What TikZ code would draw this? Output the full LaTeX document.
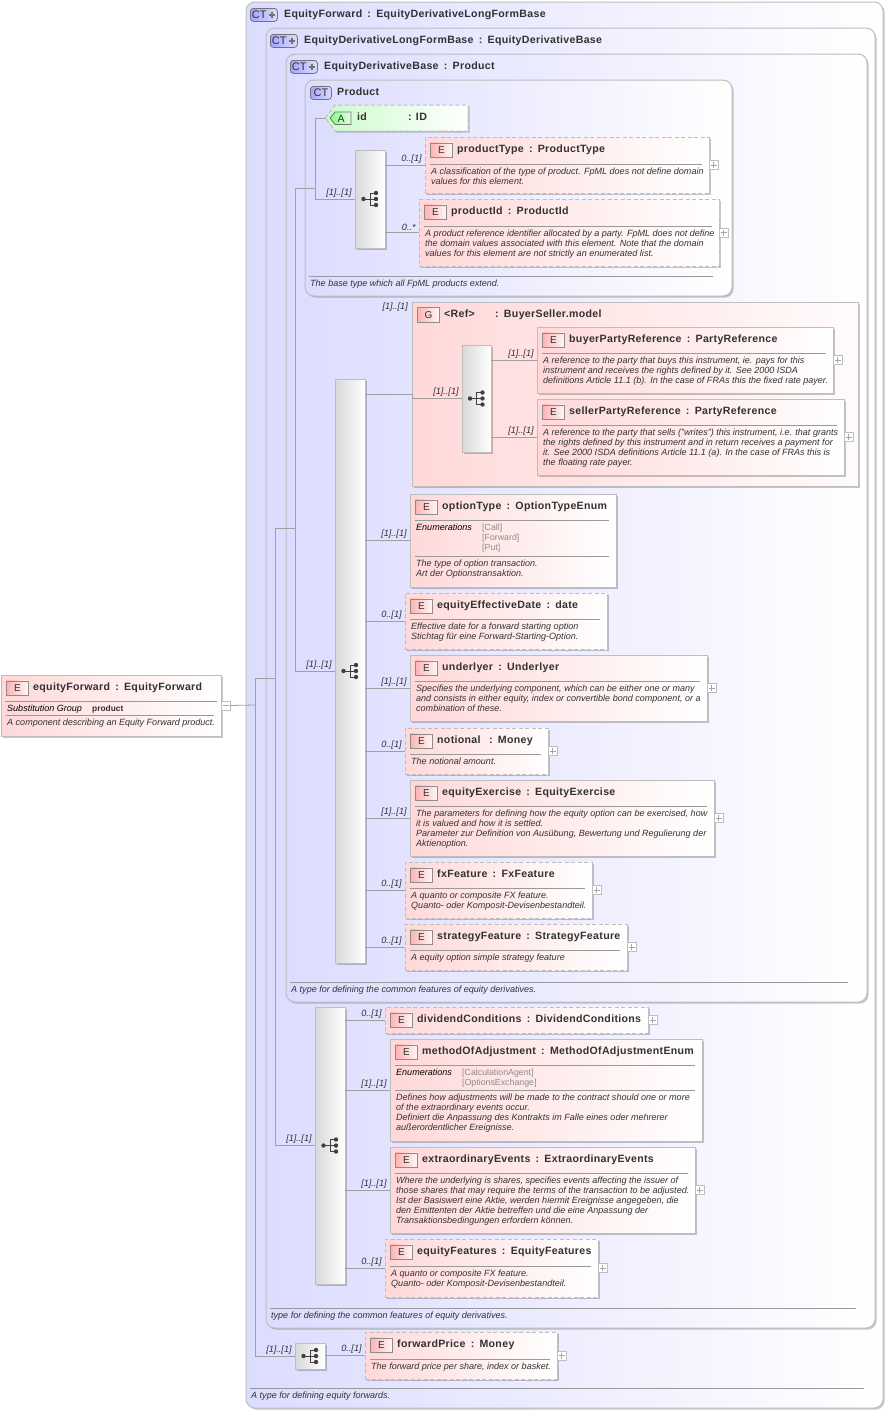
\documentclass[tikz,border=0pt]{standalone}
\usepackage{fontspec}
\setmainfont{Liberation Sans}
\usetikzlibrary{calc,positioning,shadows}
\definecolor{ctblue}{RGB}{220,220,255}
\definecolor{elempink}{RGB}{255,216,216}
\definecolor{grouppink}{RGB}{255,216,216}
\definecolor{attrgreen}{RGB}{205,250,205}
\definecolor{edgegray}{RGB}{190,190,190}
\definecolor{linegray}{RGB}{160,160,160}
\definecolor{textgray}{RGB}{50,50,50}
\tikzset{
  softshadow/.style={drop shadow={shadow xshift=1.6pt,shadow yshift=-1.6pt,fill=black,opacity=.22}},
  ctframe/.style={draw=edgegray,line width=1pt,rounded corners=9pt,left color=ctblue,right color=white,softshadow,inner sep=0pt,outer sep=0pt},
  elemsolid/.style={draw=edgegray,line width=1pt,left color=elempink,right color=white,softshadow,inner sep=0pt,outer sep=0pt},
  elemdash/.style={elemsolid,dash pattern=on 4pt off 2.5pt},
  groupframe/.style={elemsolid,left color=grouppink,right color=white!90!grouppink},
  seqframe/.style={draw=edgegray,line width=1pt,left color=black!15,right color=white,softshadow,inner sep=0pt,outer sep=0pt},
  attrframe/.style={draw=edgegray,line width=1pt,dash pattern=on 4pt off 2.5pt,left color=attrgreen,right color=white,softshadow},
  iconE/.style={draw=black!45,line width=.8pt,left color=red!30,right color=red!3,minimum width=22pt,minimum height=14.5pt,inner sep=0pt,text=textgray,font=\fontsize{10}{12}\selectfont},
  iconCT/.style={draw=black!55,line width=.8pt,rounded corners=3pt,left color=ctblue!75!blue,right color=ctblue,minimum height=13pt,inner sep=0pt,text=textgray,font=\fontsize{11}{12}\selectfont},
  titletext/.style={inner sep=0pt,text=textgray,font=\fontsize{10.6}{12}\bfseries\addfontfeatures{LetterSpace=3}},
  desc/.style={inner sep=0pt,align=left,text=textgray,font=\fontsize{9.03}{10}\itshape\selectfont},
  enumval/.style={inner sep=0pt,align=left,text=black!45,font=\fontsize{8.8}{10}\selectfont},
  card/.style={inner sep=0pt,text=textgray,font=\fontsize{9.1}{11}\itshape\selectfont},
  conn/.style={draw=linegray,line width=.8pt},
  rulesty/.style={draw=black!40,line width=.7pt},
  togglebox/.style={draw=edgegray,line width=.7pt,fill=white,minimum width=9pt,minimum height=9pt,inner sep=0pt,outer sep=0pt}
}
\newcommand{\tsep}{\kern2pt\ :\ \kern2pt}
\newcommand{\elembox}[7][elemsolid]{
  \node[#1,anchor=north west,minimum width={(#5-#3)*1pt},minimum height={(#6-#4)*1pt}] (#2) at (#3,#4) {};
  \node[iconE,anchor=north west] (#2Icon) at ($(#2.north west)+(5,5.5)$) {E};
  \node[titletext,anchor=base west] (#2Title) at ($(#2.north west)+(32,15)$) {#7};
}
\newcommand{\ctbox}[7]{
  \node[ctframe,anchor=north west,minimum width={(#4-#2)*1pt},minimum height={(#5-#3)*1pt}] (#1) at (#2,#3) {};
  \node[titletext,anchor=base west] (#1Title) at ($(#1.north west)+(38,15)$) {#6};
  \draw[rulesty] ($(#1.south west)+(4,-20)$) -- ($(#1.south east)+(-19,-20)$);
  \node[desc,anchor=base west] (#1Text) at ($(#1.south west)+(5,-9.5)$) {#7};
}
\newcommand{\cticon}[1]{
  \node[iconCT,anchor=north west,minimum width=27pt,text width=24pt] (#1Icon) at ($(#1.north west)+(4,6)$) {CT};
  \draw[black!55,line width=2pt] ($(#1Icon.east)+(-9,0)$) -- ($(#1Icon.east)+(-2.5,0)$);
  \draw[black!55,line width=2pt] ($(#1Icon.east)+(-5.75,-3.25)$) -- ($(#1Icon.east)+(-5.75,3.25)$);
}
\newcommand{\descr}[3]{
  \draw[rulesty] ($(#1.north west)+(5,#2)$) -- ($(#1.north east)+(-7,#2)$);
  \node[desc,anchor=north west] (#1Text) at ($(#1.north west)+(6,#2+4)$) {#3};
}
\newcommand{\enumrow}[3]{
  \draw[rulesty] ($(#1.north west)+(5,#2)$) -- ($(#1.north east)+(-7,#2)$);
  \node[desc,anchor=north west,text=black] (#1EnumKey) at ($(#1.north west)+(6,#2+4)$) {Enumerations};
  \node[enumval,anchor=north west] (#1EnumVal) at ($(#1.north west)+(72,#2+4)$) {#3};
}
\newcommand{\seqbox}[5]{
  \node[seqframe,anchor=north west,minimum width={(#4-#2)*1pt},minimum height={(#5-#3)*1pt}] (#1) at (#2,#3) {};
  \fill[black!75] ($(#1.center)+(-6.5,0)$) circle (2.2);
  \fill[black!75] ($(#1.center)+(6,-6)$) circle (2.2);
  \fill[black!75] ($(#1.center)+(6,0)$) circle (2.2);
  \fill[black!75] ($(#1.center)+(6,6)$) circle (2.2);
  \draw[black!75,line width=1pt] ($(#1.center)+(-6.5,0)$) -- ($(#1.center)+(6,0)$);
  \draw[black!75,line width=1pt] ($(#1.center)+(6,-6)$) -- ($(#1.center)+(0,-6)$) -- ($(#1.center)+(0,6)$) -- ($(#1.center)+(6,6)$);
}
\newcommand{\plusbox}[1]{
  \node[togglebox,anchor=west] (#1Plus) at (#1.east) {};
  \draw[black!35,line width=.6pt] ($(#1Plus.center)+(-3,0)$) -- ($(#1Plus.center)+(3,0)$);
  \draw[black!35,line width=.6pt] ($(#1Plus.center)+(0,-3)$) -- ($(#1Plus.center)+(0,3)$);
}
\newcommand{\link}[3]{
  \draw[conn] (#1.east |- #2.west) -- node[card,pos=1,above left=1.5pt and 3pt] {#3} (#2.west);
}
\begin{document}
\begin{tikzpicture}[x=1pt,y=-1pt]
    \useasboundingbox (0,0) rectangle (888,1411);

    \ctbox{forwardType}{246}{2}{883}{1408}{EquityForward\tsep EquityDerivativeLongFormBase}{A type for defining equity forwards.}
    \cticon{forwardType}
    \ctbox{longFormBase}{266}{28}{875}{1328}{EquityDerivativeLongFormBase\tsep EquityDerivativeBase}{type for defining the common features of equity derivatives.}
    \cticon{longFormBase}
    \ctbox{derivativeBase}{286}{54}{867}{1002}{EquityDerivativeBase\tsep Product}{A type for defining the common features of equity derivatives.}
    \cticon{derivativeBase}
    \ctbox{productType}{305}{80}{732}{296}{}{The base type which all FpML products extend.}
    \node[iconCT,anchor=north west,minimum width=21pt] (productTypeIcon) at (310,86) {CT};
    \node[titletext,anchor=base west] (productTypeName) at (337,95) {Product};

    \draw[attrframe] (325.5,118) -- (335,105) -- (468,105) -- (468,131) -- (335,131) -- cycle;
    \coordinate (idAttr) at (325.5,118);
    \draw[draw=black!55,line width=.8pt,left color=green!50!white,right color=green!12!white] (330,118) -- (335,112) -- (351,112) -- (351,124.5) -- (335,124.5) -- cycle;
    \node[inner sep=0pt,text=textgray,font=\fontsize{10.5}{11}\selectfont] (idIcon) at (341,118.5) {A};
    \node[titletext,anchor=base west] (idName) at (357,120) {id};
    \node[titletext,anchor=base west] (idType) at (408,120) {:\ \kern1pt ID};

    \seqbox{productSeq}{355}{150}{385}{248}
    \elembox[elemdash]{productKind}{425}{137}{709}{193}{productType\tsep ProductType}
    \descr{productKind}{27}{A classification of the type of product. FpML does not define domain\\values for this element.}
    \plusbox{productKind}
    \elembox[elemdash]{productId}{419}{199}{719}{266}{productId\tsep ProductId}
    \descr{productId}{27}{A product reference identifier allocated by a party. FpML does not define\\the domain values associated with this element. Note that the domain\\values for this element are not strictly an enumerated list.}
    \plusbox{productId}

    \seqbox{baseSeq}{335}{379}{365}{963}
    \node[groupframe,anchor=north west,minimum width=446pt,minimum height=184pt] (buyerSeller) at (412,302) {};
    \node[iconE,anchor=north west] (buyerSellerIcon) at (417,307) {G};
    \node[titletext,anchor=base west] (buyerSellerRef) at (444,317) {<Ref>};
    \node[titletext,anchor=base west] (buyerSellerName) at (495,317) {:\ \kern2pt BuyerSeller.model};
    \seqbox{buyerSellerSeq}{462}{345}{491}{452}
    \elembox{buyerParty}{537}{327}{833}{393}{buyerPartyReference\tsep PartyReference}
    \descr{buyerParty}{26}{A reference to the party that buys this instrument, ie. pays for this\\instrument and receives the rights defined by it. See 2000 ISDA\\definitions Article 11.1 (b). In the case of FRAs this the fixed rate payer.}
    \plusbox{buyerParty}
    \elembox{sellerParty}{537}{399}{844}{475}{sellerPartyReference\tsep PartyReference}
    \descr{sellerParty}{26}{A reference to the party that sells ("writes") this instrument, i.e. that grants\\the rights defined by this instrument and in return receives a payment for\\it. See 2000 ISDA definitions Article 11.1 (a). In the case of FRAs this is\\the floating rate payer.}
    \plusbox{sellerParty}

    \elembox{optionKind}{410}{494}{616}{587}{optionType\tsep OptionTypeEnum}
    \enumrow{optionKind}{26}{{[Call]}\\{[Forward]}\\{[Put]}}
    \descr{optionKind}{62}{The type of option transaction.\\Art der Optionstransaktion.}
    \elembox[elemdash]{effectiveDate}{405}{593}{607}{649}{equityEffectiveDate\tsep date}
    \descr{effectiveDate}{26}{Effective date for a forward starting option\\Stichtag für eine Forward-Starting-Option.}
    \elembox{underlyer}{410}{655}{707}{721}{underlyer\tsep Underlyer}
    \descr{underlyer}{26}{Specifies the underlying component, which can be either one or many\\and consists in either equity, index or convertible bond component, or a\\combination of these.}
    \plusbox{underlyer}
    \elembox[elemdash]{notional}{405}{728}{548}{774}{notional\ \tsep Money}
    \descr{notional}{26}{The notional amount.}
    \plusbox{notional}
    \elembox{equityExercise}{410}{780}{714}{856}{equityExercise\tsep EquityExercise}
    \descr{equityExercise}{26}{The parameters for defining how the equity option can be exercised, how\\it is valued and how it is settled.\\Parameter zur Definition von Ausübung, Bewertung und Regulierung der\\Aktienoption.}
    \plusbox{equityExercise}
    \elembox[elemdash]{fxFeature}{405}{862}{592}{918}{fxFeature\tsep FxFeature}
    \descr{fxFeature}{26}{A quanto or composite FX feature.\\Quanto- oder Komposit-Devisenbestandteil.}
    \plusbox{fxFeature}
    \elembox[elemdash]{strategyFeature}{405}{924}{627}{970}{strategyFeature\tsep StrategyFeature}
    \descr{strategyFeature}{26}{A equity option simple strategy feature}
    \plusbox{strategyFeature}

    \seqbox{longSeq}{315}{1007}{345}{1284}
    \elembox[elemdash]{dividendConditions}{385}{1007}{648}{1033}{dividendConditions\tsep DividendConditions}
    \plusbox{dividendConditions}
    \elembox{methodAdjust}{390}{1039}{702}{1141}{methodOfAdjustment\tsep MethodOfAdjustmentEnum}
    \enumrow{methodAdjust}{26}{{[CalculationAgent]}\\{[OptionsExchange]}}
    \descr{methodAdjust}{51}{Defines how adjustments will be made to the contract should one or more\\of the extraordinary events occur.\\Definiert die Anpassung des Kontrakts im Falle eines oder mehrerer\\außerordentlicher Ereignisse.}
    \elembox{extraEvents}{390}{1147}{695}{1233}{extraordinaryEvents\tsep ExtraordinaryEvents}
    \descr{extraEvents}{26}{Where the underlying is shares, specifies events affecting the issuer of\\those shares that may require the terms of the transaction to be adjusted.\\Ist der Basiswert eine Aktie, werden hiermit Ereignisse angegeben, die\\den Emittenten der Aktie betreffen und die eine Anpassung der\\Transaktionsbedingungen erfordern können.}
    \plusbox{extraEvents}
    \elembox[elemdash]{equityFeatures}{385}{1239}{598}{1297}{equityFeatures\tsep EquityFeatures}
    \descr{equityFeatures}{27}{A quanto or composite FX feature.\\Quanto- oder Komposit-Devisenbestandteil.}
    \plusbox{equityFeatures}

    \seqbox{forwardSeq}{295}{1343}{325}{1369}
    \elembox[elemdash]{forwardPrice}{365}{1332}{557}{1379}{forwardPrice\tsep Money}
    \descr{forwardPrice}{27}{The forward price per share, index or basket.}
    \plusbox{forwardPrice}

    \elembox{equityForward}{1}{675}{221}{736}{equityForward\tsep EquityForward}
    \draw[rulesty] (5,701) -- (217,701);
    \node[desc,anchor=base west,text=black] (substKey) at (7,711) {Substitution Group};
    \node[inner sep=0pt,anchor=base west,text=textgray,font=\fontsize{8.4}{10}\bfseries\selectfont] (substVal) at (92,711) {product};
    \descr{equityForward}{40}{A component describing an Equity Forward product.}
    \node[togglebox,anchor=west] (equityForwardMinus) at (equityForward.east) {};
    \draw[black!35,line width=.6pt] ($(equityForwardMinus.center)+(-3,0)$) -- ($(equityForwardMinus.center)+(3,0)$);

    \coordinate (rootBus) at (255,705);
    \coordinate (longBus) at (275,678);
    \coordinate (baseBus) at (295,528);
    \coordinate (productBus) at (315,188);

    \draw[conn] (equityForwardMinus.east) -- (rootBus);
    \draw[conn] (rootBus |- longFormBase.west) -- (rootBus |- forwardSeq.west);
    \draw[conn] (rootBus |- longFormBase.west) -- (longBus);
    \draw[conn] (longBus |- derivativeBase.west) -- (longBus |- longSeq.west);
    \draw[conn] (longBus |- derivativeBase.west) -- (baseBus);
    \draw[conn] (baseBus |- productType.west) -- (baseBus |- baseSeq.west);
    \draw[conn] (baseBus |- productType.west) -- (productBus);
    \draw[conn] (productBus |- idAttr) -- (productBus |- productSeq.west);
    \draw[conn] (productBus |- idAttr) -- (idAttr);

    \draw[conn] (productBus |- productSeq.west) -- node[card,pos=1,above left=1.5pt and 3pt] {[1]..[1]} (productSeq.west);
    \draw[conn] (baseBus |- baseSeq.west) -- node[card,pos=1,above left=1.5pt and 3pt] {[1]..[1]} (baseSeq.west);
    \draw[conn] (longBus |- longSeq.west) -- node[card,pos=1,above left=1.5pt and 3pt] {[1]..[1]} (longSeq.west);
    \draw[conn] (rootBus |- forwardSeq.west) -- node[card,pos=1,above left=1.5pt and 3pt] {[1]..[1]} (forwardSeq.west);
    \draw[conn] (buyerSeller.west) -- (buyerSeller.west |- buyerSellerSeq.west) -- node[card,pos=1,above left=1.5pt and 3pt] {[1]..[1]} (buyerSellerSeq.west);

    \link{productSeq}{productKind}{0..[1]}
    \link{productSeq}{productId}{0..*}
    \link{baseSeq}{buyerSeller}{}
    \node[card,anchor=south east] (buyerSellerCard) at (408,312) {[1]..[1]};
    \link{buyerSellerSeq}{buyerParty}{[1]..[1]}
    \link{buyerSellerSeq}{sellerParty}{[1]..[1]}
    \link{baseSeq}{optionKind}{[1]..[1]}
    \link{baseSeq}{effectiveDate}{0..[1]}
    \link{baseSeq}{underlyer}{[1]..[1]}
    \link{baseSeq}{notional}{0..[1]}
    \link{baseSeq}{equityExercise}{[1]..[1]}
    \link{baseSeq}{fxFeature}{0..[1]}
    \link{baseSeq}{strategyFeature}{0..[1]}
    \link{longSeq}{dividendConditions}{0..[1]}
    \link{longSeq}{methodAdjust}{[1]..[1]}
    \link{longSeq}{extraEvents}{[1]..[1]}
    \link{longSeq}{equityFeatures}{0..[1]}
    \link{forwardSeq}{forwardPrice}{0..[1]}
\end{tikzpicture}
\end{document}
